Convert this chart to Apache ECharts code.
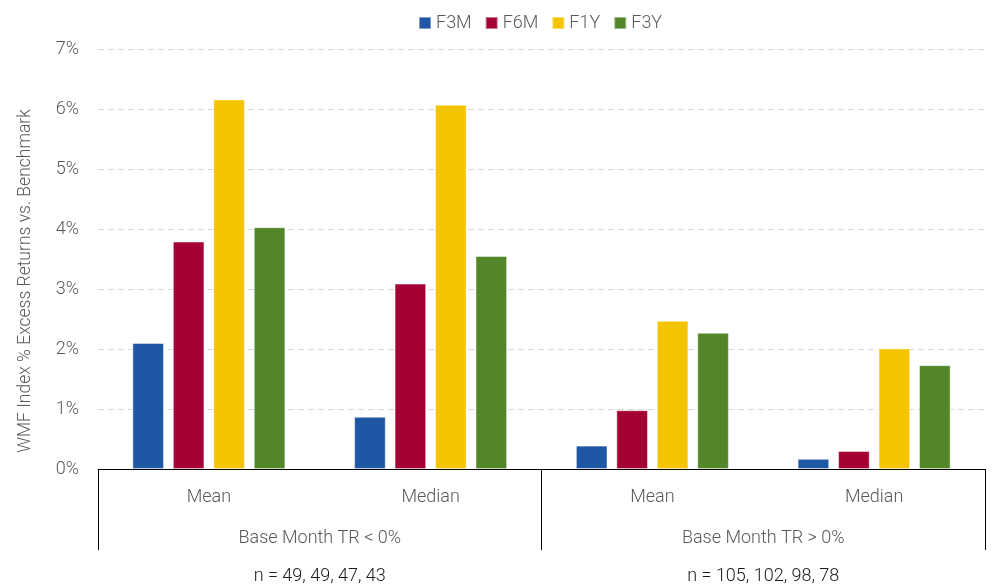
<!DOCTYPE html>
<html>
<head>
<meta charset="utf-8">
<script src="https://cdn.jsdelivr.net/npm/echarts@6/dist/echarts.min.js"></script>
<style>html,body{margin:0;padding:0;background:#fff}#c{width:992px;height:588px}</style>
</head>
<body>
<div id="c"></div>
<script>
const categories = ['Mean', 'Median', 'Mean', 'Median'];
const groups = ['Base Month TR < 0%', 'Base Month TR > 0%'];
const counts = ['n = 49, 49, 47, 43', 'n = 105, 102, 98, 78'];
const seriesNames = ['F3M', 'F6M', 'F1Y', 'F3Y'];
const f3m = [2.10, 0.87, 0.39, 0.17];
const f6m = [3.79, 3.09, 0.98, 0.30];
const f1y = [6.16, 6.07, 2.47, 2.01];
const f3y = [4.03, 3.55, 2.27, 1.73];
const yTicks = [0, 1, 2, 3, 4, 5, 6, 7];
const colors = ['#1F57A5', '#A50034', '#F4C400', '#538629'];

const FONT = "Roboto, 'Liberation Sans', sans-serif";
const FW = 300;
const FS = 18;
const TXT = '#595959';
const values = [f3m, f6m, f1y, f3y];

const chart = echarts.init(document.getElementById('c'), null, {renderer: 'canvas'});
chart.setOption({
  animation: false,
  textStyle: {fontFamily: FONT, fontWeight: FW},
  color: colors,
  legend: {
    top: 9, left: 413, itemWidth: 12, itemHeight: 12, itemGap: 13,
    icon: 'rect',
    textStyle: {fontFamily: FONT, fontWeight: FW, fontSize: FS, color: TXT},
    data: seriesNames
  },
  grid: {left: 98, right: 7, top: 49, bottom: 119, containLabel: false},
  xAxis: [
    {
      type: 'category', data: categories, position: 'bottom',
      axisLine: {show: true, lineStyle: {color: '#000', width: 1}},
      axisTick: {show: false},
      axisLabel: {fontFamily: FONT, fontWeight: FW, fontSize: FS, color: TXT, margin: 19}
    },
    {
      type: 'category', data: groups, position: 'bottom', gridIndex: 0,
      axisLine: {show: false},
      axisTick: {show: true, length: 81, lineStyle: {color: '#000', width: 1}},
      axisLabel: {fontFamily: FONT, fontWeight: FW, fontSize: FS, color: TXT, margin: 60}
    },
    {
      type: 'category', data: counts, position: 'bottom', gridIndex: 0,
      axisLine: {show: false},
      axisTick: {show: false},
      axisLabel: {fontFamily: FONT, fontWeight: FW, fontSize: FS, color: '#1a1a1a', margin: 98}
    }
  ],
  yAxis: {
    type: 'value', min: yTicks[0], max: yTicks[yTicks.length - 1], interval: 1,
    name: 'WMF Index % Excess Returns vs. Benchmark',
    nameLocation: 'middle', nameGap: 63, nameRotate: 90,
    nameTextStyle: {fontFamily: FONT, fontWeight: FW, fontSize: 17.5, color: TXT, padding: [0, 44, 0, 0]},
    axisLine: {show: false}, axisTick: {show: false},
    axisLabel: {fontFamily: FONT, fontWeight: FW, fontSize: FS, color: TXT, margin: 19, formatter: '{value}%'},
    splitLine: {show: true, lineStyle: {color: '#D9D9D9', type: [6, 4], width: 1}}
  },
  series: seriesNames.map((n, i) => ({
    name: n, type: 'bar', xAxisIndex: 0, data: values[i],
    barCategoryGap: '31%', barGap: '28%',
    itemStyle: {color: colors[i], borderColor: 'rgba(255,255,255,0.45)', borderWidth: 1}
  }))
});
</script>
</body>
</html>
